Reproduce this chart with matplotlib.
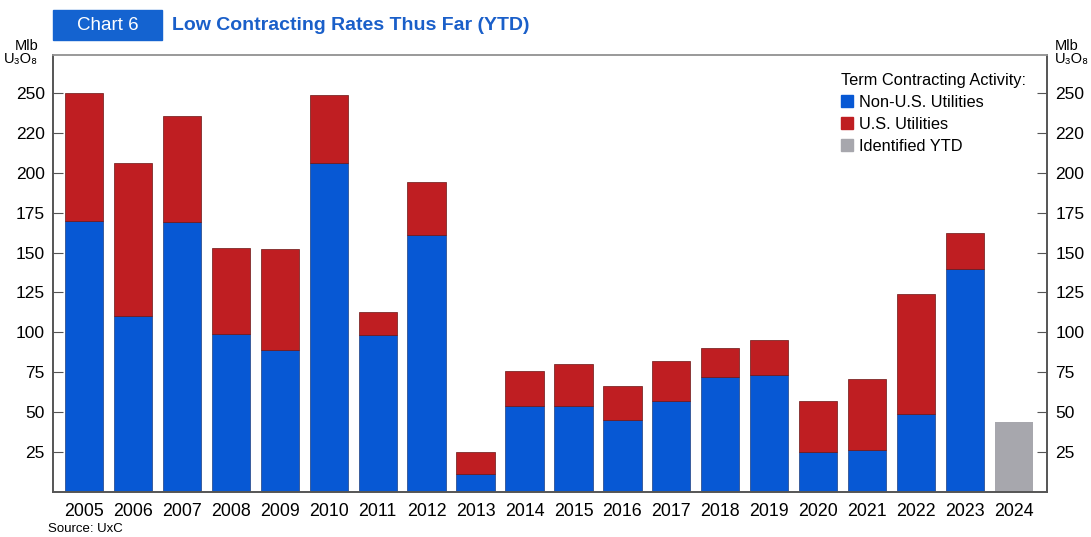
import matplotlib.pyplot as plt
from matplotlib.patches import Rectangle, Patch

years = ['2005', '2006', '2007', '2008', '2009', '2010', '2011', '2012', '2013', '2014',
         '2015', '2016', '2017', '2018', '2019', '2020', '2021', '2022', '2023', '2024']
non_us = [170, 110, 169, 99, 89, 206, 98, 161, 11, 54,
          54, 45, 57, 72, 73, 25, 26, 49, 140, 0]
us = [80, 96, 67, 54, 63, 43, 15, 33, 14, 22,
      26, 21, 25, 18, 22, 32, 45, 75, 22, 0]
ytd = [0, 0, 0, 0, 0, 0, 0, 0, 0, 0,
       0, 0, 0, 0, 0, 0, 0, 0, 0, 43.5]

tick_vals = [25, 50, 75, 100, 125, 150, 175, 200, 225, 250]
tick_text = ['25', '50', '75', '100', '125', '150', '175', '200', '220', '250']

BLUE = '#0758d4'
RED = '#bf1e22'
GREY = '#a7a7ad'
TITLE_BLUE = '#1a5fc9'

plt.rcParams['font.family'] = ['Liberation Sans', 'DejaVu Sans']

fig = plt.figure(figsize=(10.91, 5.37), dpi=100)
ax = fig.add_axes([0.0486, 0.0844, 0.911, 0.8132])

x = range(len(years))
w = 0.78
ax.bar(x, non_us, width=w, color=BLUE, edgecolor='#1d3f80', linewidth=0.5,
       label='Non-U.S. Utilities')
ax.bar(x, us, width=w, bottom=non_us, color=RED, edgecolor='#6a1414', linewidth=0.5,
       label='U.S. Utilities')
ax.bar(x, ytd, width=w, color=GREY, linewidth=0, label='Identified YTD')

ax.set_xlim(-0.63, len(years) - 1 + 0.67)
ax.set_ylim(0, 274)
ax.set_xticks(list(x))
ax.set_xticklabels(years, fontsize=12.8)
ax.tick_params(axis='x', length=0, pad=8)
ax.set_yticks(tick_vals)
ax.set_yticklabels(tick_text, fontsize=12.5)
ax.tick_params(axis='y', direction='in', length=7, color='#555555', pad=6)

ax2 = ax.twinx()
ax2.set_ylim(ax.get_ylim())
ax2.set_yticks(tick_vals)
ax2.set_yticklabels(tick_text, fontsize=12.5)
ax2.tick_params(axis='y', direction='in', length=7, color='#555555', pad=6)

for a in (ax, ax2):
    for side in ('left', 'right', 'bottom'):
        a.spines[side].set_color('#555555')
        a.spines[side].set_linewidth(1.2)
    a.spines['top'].set_color('#999999')
    a.spines['top'].set_linewidth(1.2)

handles = [Patch(color=BLUE), Patch(color=RED), Patch(color=GREY)]
leg = ax.legend(handles, ['Non-U.S. Utilities', 'U.S. Utilities', 'Identified YTD'],
                title='Term Contracting Activity:', loc='upper right',
                bbox_to_anchor=(0.99, 0.985), frameon=False, fontsize=11.8,
                title_fontsize=11.8, handlelength=0.75, handleheight=0.75,
                handletextpad=0.35, labelspacing=0.42, borderpad=0.2)
leg._legend_box.align = 'left'

# units above both value axes
fig.text(0.035, 0.877, 'Mlb\nU\u2083O\u2088', ha='right', va='bottom', fontsize=10.5,
         linespacing=0.9)
fig.text(0.967, 0.877, 'Mlb\nU\u2083O\u2088', ha='left', va='bottom', fontsize=10.5,
         linespacing=0.9)

# header: chart number box and title
fig.patches.append(Rectangle((0.0486, 0.9255), 0.1, 0.0559, transform=fig.transFigure,
                             color='#1463d0', zorder=0))
fig.text(0.0986, 0.9534, 'Chart 6', color='white', ha='center', va='center', fontsize=13.5)
fig.text(0.1577, 0.9534, 'Low Contracting Rates Thus Far (YTD)', color=TITLE_BLUE,
         ha='left', va='center', fontsize=14, fontweight='bold')

fig.text(0.044, 0.004, 'Source: UxC', fontsize=9.5, ha='left', va='bottom')

fig.savefig('out.png', dpi=100)
